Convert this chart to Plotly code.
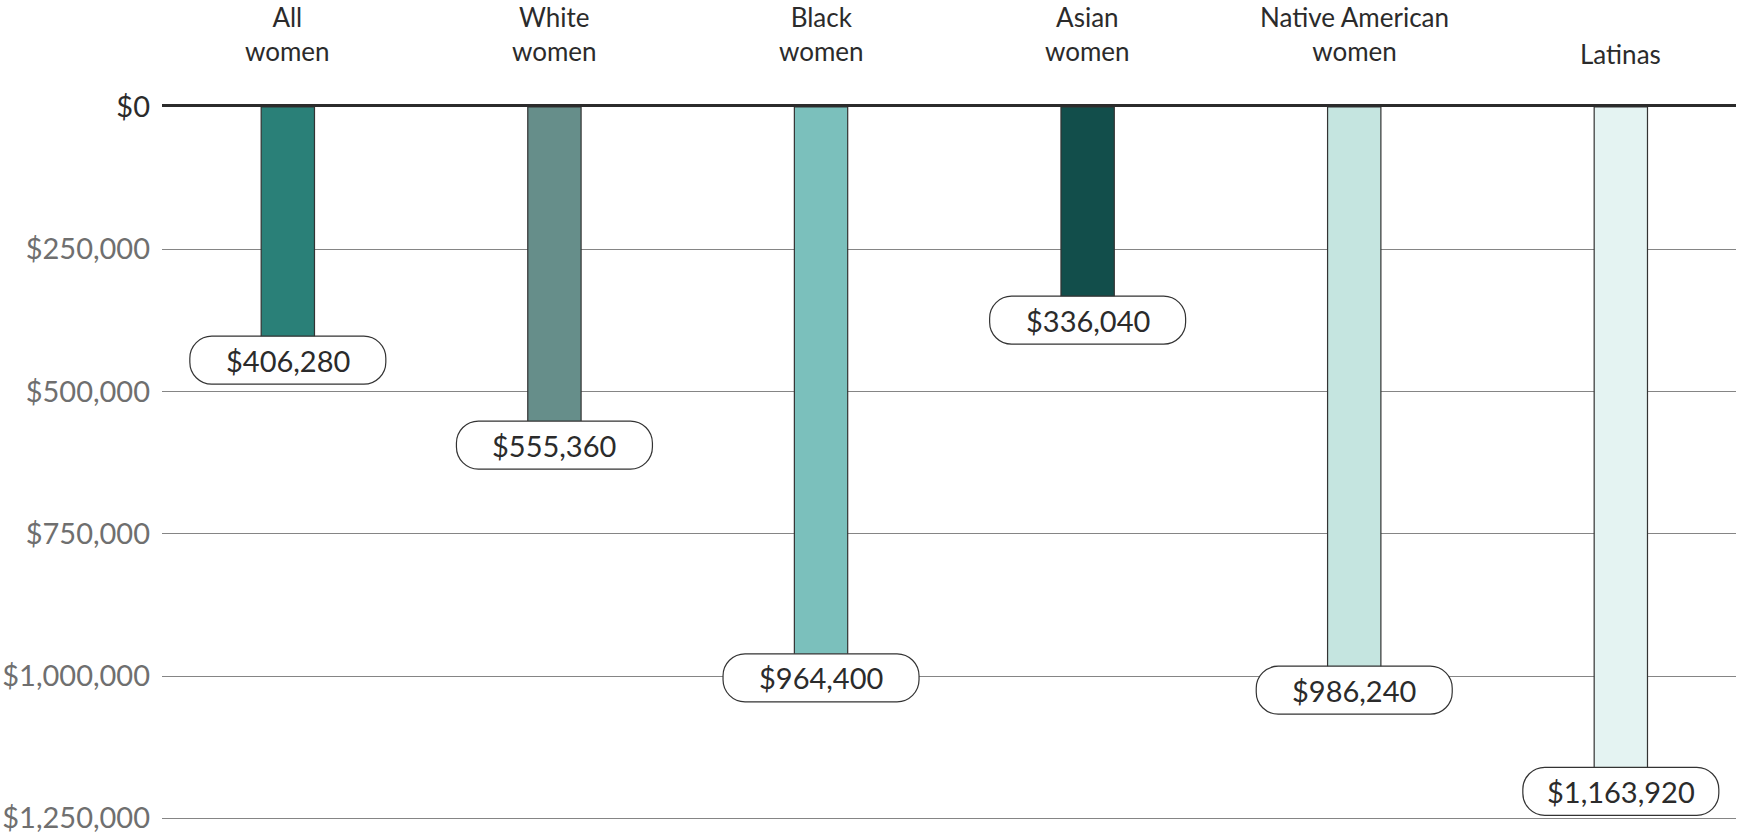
import plotly.graph_objects as go

# ---- data ----
categories = ["All<br>women", "White<br>women", "Black<br>women", "Asian<br>women",
              "Native American<br>women", "Latinas"]
values = [406280, 555360, 964400, 336040, 986240, 1163920]
value_labels = ["$406,280", "$555,360", "$964,400", "$336,040", "$986,240", "$1,163,920"]
tick_values = [0, 250000, 500000, 750000, 1000000, 1250000]
tick_labels = ["$0", "$250,000", "$500,000", "$750,000", "$1,000,000", "$1,250,000"]

# ---- style ----
bar_colors = ["#2a8078", "#668e8a", "#7bc0bc", "#124e4b", "#c5e5e0", "#e4f3f2"]
FONT = "Lato"
DARK = "#2b2b2b"
GRAY = "#6f6f6f"

xpos = list(range(len(categories)))

fig = go.Figure()
fig.add_trace(go.Bar(
    x=xpos, y=values, width=0.2,
    marker=dict(color=bar_colors, line=dict(color="#333333", width=1.2)),
    hoverinfo="skip",
))

# pill-shaped label boxes (pixel-sized, anchored to data values)
W, H, R, CY = 196, 48, 22, -22
K = 0.5523 * R
def pill_path():
    x0, x1 = -W / 2, W / 2
    yb, yt = CY - H / 2, CY + H / 2
    pts = [
        f"M{x0+R},{yt}",
        f"L{x1-R},{yt}",
        f"C{x1-R+K},{yt} {x1},{yt-R+K} {x1},{yt-R}",
        f"L{x1},{yb+R}",
        f"C{x1},{yb+R-K} {x1-R+K},{yb} {x1-R},{yb}",
        f"L{x0+R},{yb}",
        f"C{x0+R-K},{yb} {x0},{yb+R-K} {x0},{yb+R}",
        f"L{x0},{yt-R}",
        f"C{x0},{yt-R+K} {x0+R-K},{yt} {x0+R},{yt}",
        "Z",
    ]
    return " ".join(pts)

path = pill_path()
for xi, v, lab in zip(xpos, values, value_labels):
    fig.add_shape(type="path", path=path, xref="x", yref="y",
                  xsizemode="pixel", ysizemode="pixel", xanchor=xi, yanchor=v,
                  fillcolor="white", line=dict(color="#333333", width=1.2), layer="above")
    fig.add_annotation(x=xi, y=v, text=lab, showarrow=False, yshift=CY,
                       xanchor="center", yanchor="middle",
                       font=dict(family=FONT, size=29, color=DARK))

# category labels on top
for xi, c in zip(xpos, categories):
    fig.add_annotation(x=xi, y=1, xref="x", yref="paper", text=c, showarrow=False,
                       xanchor="center", yanchor="bottom",
                       yshift=39 if "<br>" in c else 36, borderpad=0,
                       font=dict(family=FONT, size=26, color=DARK))

ticktext = [f"<span style='color:{DARK}'>{t}</span>" if v == 0 else t
            for v, t in zip(tick_values, tick_labels)]

fig.update_layout(
    width=1752, height=833,
    margin=dict(l=162, r=16, t=107, b=9),
    paper_bgcolor="white", plot_bgcolor="white",
    showlegend=False,
    xaxis=dict(range=[-0.472, 5.432], showticklabels=False, showgrid=False,
               side="top", showline=True, linecolor=DARK, linewidth=3,
               zeroline=False, fixedrange=True, automargin=False),
    yaxis=dict(range=[1260000, 0], tickvals=tick_values, ticktext=ticktext,
               showgrid=True, gridcolor="#858585", gridwidth=1.2,
               zeroline=False, showline=False, ticks="",
               ticklabelstandoff=11, automargin=False, ticklabeloverflow="allow",
               tickfont=dict(family=FONT, size=29, color=GRAY)),
)

fig.write_html("out.html")
